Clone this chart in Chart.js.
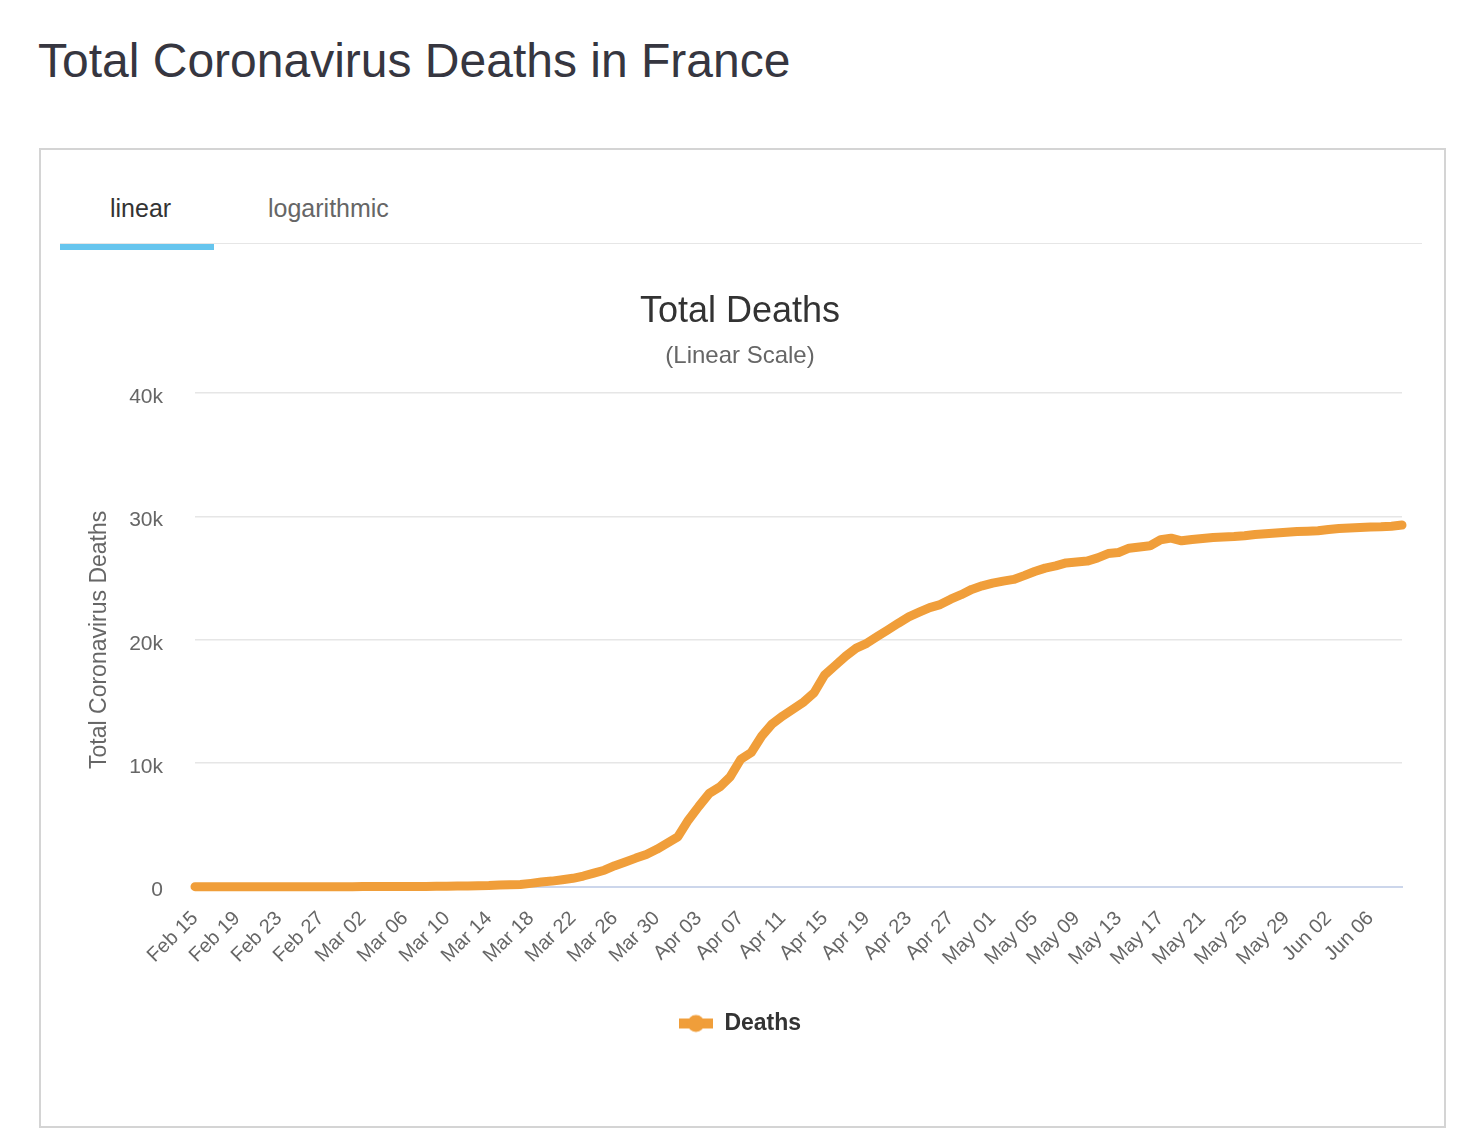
<!DOCTYPE html>
<html>
<head>
<meta charset="utf-8">
<title>Total Coronavirus Deaths in France</title>
<script src="https://cdn.jsdelivr.net/npm/chart.js@4.4.1/dist/chart.umd.min.js"></script>
<style>
    body { margin: 0; background: #fff; font-family: "Liberation Sans", Arial, Helvetica, sans-serif; }
    .page-title { position: absolute; left: 38px; top: 37px; margin: 0; font-size: 48px; line-height: 48px; font-weight: normal; color: #363640; }
    .box { position: absolute; left: 39px; top: 148px; width: 1403px; height: 976px; border: 2px solid #d4d4d4; }
    .tab { position: absolute; top: 194px; font-size: 25px; line-height: 28px; }
    .tab.active { left: 110px; color: #333; }
    .tab.other { left: 268px; color: #666; }
    .tab-rule { position: absolute; left: 60px; top: 243px; width: 1362px; height: 1px; background: #e6e6e6; }
    .tab-bar { position: absolute; left: 60px; top: 244px; width: 154px; height: 6px; background: #66c5ee; }
    .chart-wrap { position: absolute; left: 78px; top: 265px; width: 1330px; height: 810px; }
</style>
</head>
<body>
<h1 class="page-title">Total Coronavirus Deaths in France</h1>
<div class="box"></div>
<div class="tab active">linear</div>
<div class="tab other">logarithmic</div>
<div class="tab-rule"></div>
<div class="tab-bar"></div>
<div class="chart-wrap"><canvas id="deathsChart"></canvas></div>

<script>
// daily dates, Feb 15 to Jun 09
const dates = [
    'Feb 15', 'Feb 16', 'Feb 17', 'Feb 18', 'Feb 19', 'Feb 20', 'Feb 21', 'Feb 22', 'Feb 23', 'Feb 24',
    'Feb 25', 'Feb 26', 'Feb 27', 'Feb 28', 'Feb 29',
    'Mar 01', 'Mar 02', 'Mar 03', 'Mar 04', 'Mar 05', 'Mar 06', 'Mar 07', 'Mar 08', 'Mar 09', 'Mar 10',
    'Mar 11', 'Mar 12', 'Mar 13', 'Mar 14', 'Mar 15', 'Mar 16', 'Mar 17', 'Mar 18', 'Mar 19', 'Mar 20',
    'Mar 21', 'Mar 22', 'Mar 23', 'Mar 24', 'Mar 25', 'Mar 26', 'Mar 27', 'Mar 28', 'Mar 29', 'Mar 30', 'Mar 31',
    'Apr 01', 'Apr 02', 'Apr 03', 'Apr 04', 'Apr 05', 'Apr 06', 'Apr 07', 'Apr 08', 'Apr 09', 'Apr 10',
    'Apr 11', 'Apr 12', 'Apr 13', 'Apr 14', 'Apr 15', 'Apr 16', 'Apr 17', 'Apr 18', 'Apr 19', 'Apr 20',
    'Apr 21', 'Apr 22', 'Apr 23', 'Apr 24', 'Apr 25', 'Apr 26', 'Apr 27', 'Apr 28', 'Apr 29', 'Apr 30',
    'May 01', 'May 02', 'May 03', 'May 04', 'May 05', 'May 06', 'May 07', 'May 08', 'May 09', 'May 10',
    'May 11', 'May 12', 'May 13', 'May 14', 'May 15', 'May 16', 'May 17', 'May 18', 'May 19', 'May 20',
    'May 21', 'May 22', 'May 23', 'May 24', 'May 25', 'May 26', 'May 27', 'May 28', 'May 29', 'May 30', 'May 31',
    'Jun 01', 'Jun 02', 'Jun 03', 'Jun 04', 'Jun 05', 'Jun 06', 'Jun 07', 'Jun 08', 'Jun 09'
];

const deaths = [
    1, 1, 1, 1, 1, 1, 1, 1, 1, 1,
    1, 2, 2, 2, 2,
    2, 3, 4, 4, 6, 9, 11, 19, 25, 33,
    48, 61, 79, 91, 127, 148, 175, 264, 372, 450,
    562, 674, 860, 1100, 1331, 1696, 1995, 2314, 2606, 3024, 3523,
    4032, 5387, 6507, 7560, 8078, 8911, 10328, 10869, 12210, 13197,
    13832, 14393, 14967, 15729, 17167, 17920, 18681, 19323, 19718, 20265,
    20796, 21340, 21856, 22245, 22614, 22856, 23293, 23660, 24087, 24376,
    24594, 24760, 24895, 25201, 25531, 25809, 25987, 26230, 26310, 26380,
    26643, 26991, 27074, 27425, 27529, 27625, 28108, 28239, 28022, 28132,
    28215, 28289, 28332, 28367, 28432, 28530, 28596, 28662, 28714, 28771, 28802,
    28833, 28940, 29021, 29065, 29111, 29142, 29155, 29209, 29296
];

const yTicks = [0, 10000, 20000, 30000, 40000];
const yTickLabels = ['0', '10k', '20k', '30k', '40k'];

const lineColor = 'rgb(240, 158, 58)';

// legend symbol: short thick line with a dot in the middle
const legendIcon = document.createElement('canvas');
legendIcon.width = 34;
legendIcon.height = 20;
const ictx = legendIcon.getContext('2d');
ictx.fillStyle = lineColor;
ictx.fillRect(0, 5, 34, 10);
ictx.beginPath();
ictx.arc(17, 10, 8.5, 0, Math.PI * 2);
ictx.fill();

const ctx = document.getElementById('deathsChart').getContext('2d');
new Chart(ctx, {
    type: 'line',
    data: {
        labels: dates,
        datasets: [
            {
                label: 'Deaths',
                data: deaths,
                borderColor: lineColor,
                backgroundColor: lineColor,
                borderWidth: 9,
                borderJoinStyle: 'round',
                borderCapStyle: 'round',
                pointRadius: 0,
                tension: 0,
                clip: false, // let the round line ends show past the plot edge
            },
        ],
    },
    options: {
        responsive: true,
        maintainAspectRatio: false,
        animation: false,
        layout: { padding: { left: 0, right: 6, top: 0, bottom: 30 } },
        plugins: {
            title: {
                display: true,
                text: 'Total Deaths',
                color: '#333',
                font: { family: 'Liberation Sans', size: 36, weight: 'normal' },
                padding: { top: 25, bottom: 8 },
            },
            subtitle: {
                display: true,
                text: '(Linear Scale)',
                color: '#666',
                font: { family: 'Liberation Sans', size: 24, weight: 'normal' },
                padding: { top: 1, bottom: 22 },
            },
            legend: {
                position: 'bottom',
                labels: {
                    color: '#333',
                    font: { family: 'Liberation Sans', size: 23, weight: 'bold' },
                    usePointStyle: true,
                    pointStyle: legendIcon,
                    pointStyleWidth: 34,
                    boxHeight: 20,
                    padding: 40,
                },
            },
            tooltip: { enabled: false },
        },
        scales: {
            x: {
                offset: false,
                grid: { display: false },
                border: { display: true, color: '#ccd6eb', width: 2 },
                afterFit: (scale) => {
                    scale.height = scale.height - 10;
                    // plot runs edge to edge; rotated labels need no side room
                    scale.paddingLeft = 0;
                    scale.paddingRight = 0;
                },
                ticks: {
                    autoSkip: false,
                    minRotation: 45,
                    maxRotation: 45,
                    padding: 12,
                    color: '#666',
                    font: { family: 'Liberation Sans', size: 20 },
                    callback: (value, index) => (index % 4 === 0 ? dates[index] : ''),
                },
            },
            y: {
                min: 0,
                max: 40000,
                afterBuildTicks: (scale) => {
                    scale.ticks = yTicks.map(v => ({ value: v }));
                },
                afterFit: (scale) => {
                    scale.width = 117;
                },
                grid: { color: '#e6e6e6', lineWidth: 1.5, drawTicks: false },
                border: { display: false },
                ticks: {
                    padding: 32,
                    labelOffset: 4,
                    color: '#666',
                    font: { family: 'Liberation Sans', size: 21 },
                    callback: (value) => yTickLabels[yTicks.indexOf(value)],
                },
                title: {
                    display: true,
                    text: 'Total Coronavirus Deaths',
                    color: '#666',
                    font: { family: 'Liberation Sans', size: 23, weight: 'normal' },
                    padding: { top: 8, bottom: 0 },
                },
            },
        },
    },
});
</script>
</body>
</html>
